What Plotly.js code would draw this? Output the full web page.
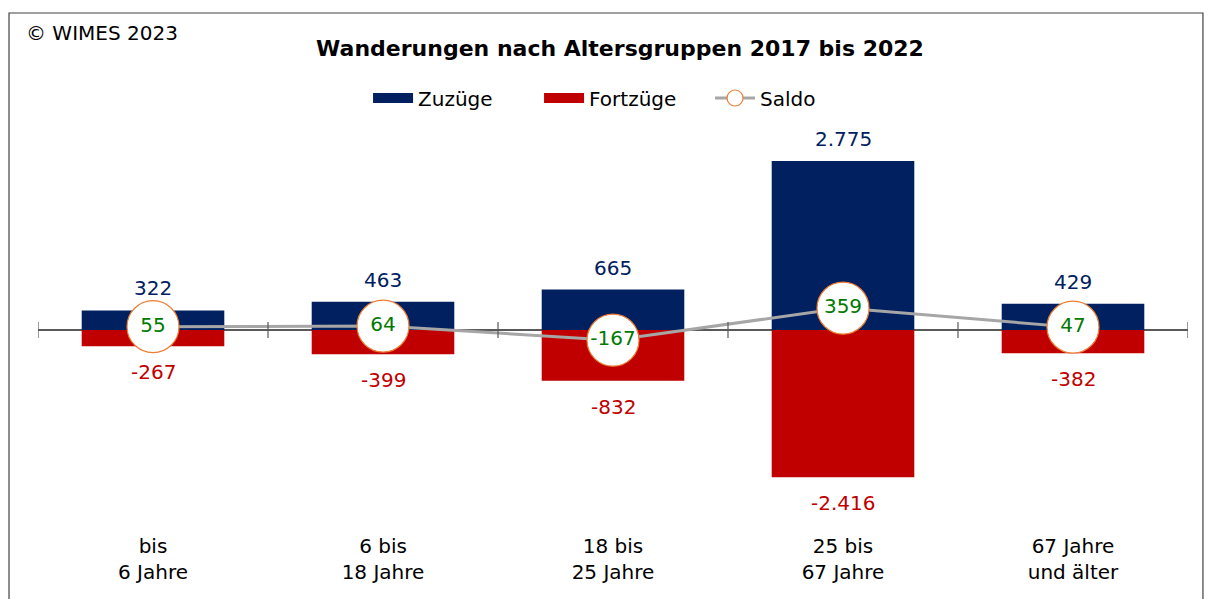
<!DOCTYPE html>
<html>
<head>
<meta charset="utf-8">
<script src="https://cdn.plot.ly/plotly-3.0.1.min.js"></script>
<style>html,body{margin:0;padding:0;background:#fff;}#chart{width:1210px;height:599px;}</style>
</head>
<body>
<div id="chart"></div>
<script>
const categories = ["bis<br>6 Jahre", "6 bis<br>18 Jahre", "18 bis<br>25 Jahre", "25 bis<br>67 Jahre", "67 Jahre<br>und älter"];
const zuzuege = [322, 463, 665, 2775, 429];
const fortzuege = [-267, -399, -832, -2416, -382];
const saldo = [55, 64, -167, 359, 47];

const FONT = "DejaVu Sans, Verdana, sans-serif";
const NAVY = "#002060", RED = "#C00000", GREEN = "#007A00";

function fmt(v) {
  const s = Math.abs(v).toString().replace(/\B(?=(\d{3})+(?!\d))/g, ".");
  return (v < 0 ? "-" : "") + s;
}
const idx = categories.map((c, i) => i);

const traces = [
  {type: "bar", name: "Zuzüge", x: idx, y: zuzuege, width: 0.62,
   marker: {color: NAVY}, hoverinfo: "skip", showlegend: false},
  {type: "bar", name: "Fortzüge", x: idx, y: fortzuege, width: 0.62,
   marker: {color: RED}, hoverinfo: "skip", showlegend: false},
  {type: "scatter", name: "Zuzüge", x: [null], y: [null], mode: "lines",
   line: {color: NAVY, width: 13}, showlegend: true, hoverinfo: "skip"},
  {type: "scatter", name: "Fortzüge", x: [null], y: [null], mode: "lines",
   line: {color: RED, width: 13}, showlegend: true, hoverinfo: "skip"},
  {type: "scatter", name: "Saldo", x: idx, y: saldo, mode: "lines+markers+text",
   text: saldo.map(fmt), textposition: "middle center",
   textfont: {color: GREEN, size: 20, family: FONT},
   line: {color: "#A6A6A6", width: 3},
   marker: {size: 52, color: "#FFFFFF", line: {color: "#ED7D31", width: 1.2}},
   cliponaxis: false, hoverinfo: "skip"}
];

const annotations = [];
idx.forEach(i => {
  annotations.push({x: i, y: zuzuege[i], xref: "x", yref: "y", text: fmt(zuzuege[i]),
    showarrow: false, yanchor: "bottom", yshift: 8, font: {color: NAVY, size: 20, family: FONT}});
  annotations.push({x: i, y: fortzuege[i], xref: "x", yref: "y", text: fmt(fortzuege[i]),
    showarrow: false, yanchor: "top", yshift: -12, font: {color: RED, size: 20, family: FONT}});
});
annotations.push({xref: "paper", yref: "paper", x: -0.012, y: 1.245, xanchor: "left", yanchor: "middle",
  text: "© WIMES 2023", showarrow: false, font: {size: 20, color: "#000", family: FONT}});

const shapes = [];
for (let k = 0; k <= categories.length; k++) {
  shapes.push({type: "line", xref: "x", yref: "y", x0: k - 0.5, x1: k - 0.5,
    ysizemode: "pixel", yanchor: 0, y0: -8, y1: 8, line: {color: "#595959", width: 1.2}});
}
shapes.push({type: "rect", xref: "paper", yref: "paper", x0: -0.0252, x1: 1.013, y0: -0.2, y1: 1.2962,
  line: {color: "#404040", width: 1.2}, fillcolor: "rgba(0,0,0,0)", layer: "below"});

const layout = {
  width: 1210, height: 599,
  margin: {l: 38, r: 22, t: 130, b: 74},
  paper_bgcolor: "#fff", plot_bgcolor: "#fff",
  font: {family: FONT, size: 20, color: "#000"},
  title: {text: "<b>Wanderungen nach Altersgruppen 2017 bis 2022</b>", x: 0.5124, xanchor: "center",
    y: 0.92, yanchor: "middle", font: {size: 22, family: FONT, color: "#000"}},
  barmode: "relative",
  showlegend: true,
  legend: {orientation: "h", x: 0.287, xanchor: "left", y: 1.081, yanchor: "middle",
    font: {size: 20, family: FONT}, traceorder: "normal", itemwidth: 40,
    entrywidth: 116, entrywidthmode: "pixels"},
  xaxis: {range: [-0.5, 4.5], tickmode: "array", tickvals: idx, ticktext: categories,
    showline: false, showgrid: false, zeroline: false, ticks: "", ticklabelstandoff: 7,
    tickfont: {size: 20, family: FONT, color: "#000"}, fixedrange: true},
  yaxis: {range: [-3202, 3284], showgrid: false, showticklabels: false, ticks: "",
    zeroline: true, zerolinecolor: "#595959", zerolinewidth: 1.5, fixedrange: true},
  annotations: annotations,
  shapes: shapes
};
Plotly.newPlot("chart", traces, layout, {displayModeBar: false, staticPlot: true});
</script>
</body>
</html>
